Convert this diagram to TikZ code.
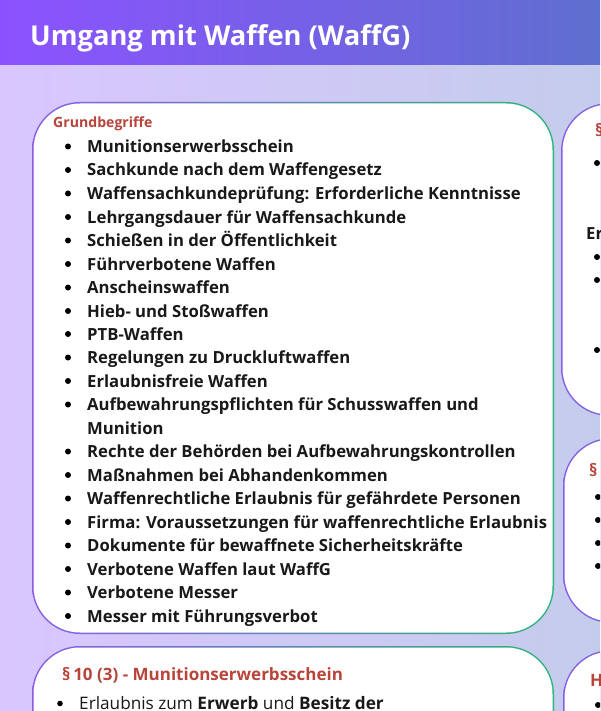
\documentclass[tikz,border=0pt]{standalone}
\usepackage{fontspec}
\setmainfont{Open Sans}
\definecolor{headleft}{HTML}{8C52FF}
\definecolor{headright}{HTML}{5F6FCF}
\definecolor{backleft}{HTML}{D9C6FF}
\definecolor{backright}{HTML}{C4CCEC}
\definecolor{cardpurple}{HTML}{8A5CE6}
\definecolor{cardgreen}{HTML}{2FB57A}
\definecolor{headred}{HTML}{B8443A}
\tikzset{
	itemtext/.style={anchor=base west, inner sep=0pt, font=\fontsize{16.7}{18}\selectfont\bfseries, text=black!90},
	redtext/.style={anchor=base west, inner sep=0pt, text=headred, font=\fontsize{17}{19}\selectfont\bfseries},
}
\newcommand{\cardbox}[4]{%
	\shade[left color=cardpurple, right color=cardgreen, rounded corners=48pt] (#1,#2) rectangle (#3,#4);
	\fill[white, rounded corners=46.5pt] (#1+1.5,#2+1.5) rectangle (#3-1.5,#4-1.5);
}
\begin{document}
\begin{tikzpicture}[x=1pt,y=-1pt]
		\clip (0,0) rectangle (600,711);
		
		% Background and header band
		\shade[left color=backleft, right color=backright] (0,65) rectangle (600,711);
		\shade[left color=headleft, right color=headright] (0,0) rectangle (600,65);
		\node[anchor=base west, inner sep=0pt, text=white, font=\fontsize{27.3}{30}\selectfont\bfseries] (title) at (30,46) {Umgang mit Waffen (WaffG)};
		
		% Cards
		\cardbox{32}{102}{554}{634}
		\cardbox{32}{646}{554}{800}
		\cardbox{561}{103}{900}{416}
		\cardbox{563}{438}{900}{623}
		\cardbox{563}{650}{900}{900}
		
		% Main card
		\node[redtext, font=\fontsize{14.1}{16}\selectfont\bfseries] (grund) at (53,128) {Grundbegriffe};
		\foreach \y/\t in {152.5/Munitionserwerbsschein, 176/Sachkunde nach dem Waffengesetz, 199.5/Waffensachkundeprüfung: Erforderliche Kenntnisse, 223/Lehrgangsdauer für Waffensachkunde, 246.5/Schießen in der Öffentlichkeit, 270/Führverbotene Waffen, 293.5/Anscheinswaffen, 317/Hieb- und Stoßwaffen, 340/PTB-Waffen, 363.5/Regelungen zu Druckluftwaffen, 387/Erlaubnisfreie Waffen, 410.5/Aufbewahrungspflichten für Schusswaffen und, 457.5/Rechte der Behörden bei Aufbewahrungskontrollen, 481/Maßnahmen bei Abhandenkommen, 504.5/Waffenrechtliche Erlaubnis für gefährdete Personen, 528/Firma: Voraussetzungen für waffenrechtliche Erlaubnis, 551.5/Dokumente für bewaffnete Sicherheitskräfte, 575/Verbotene Waffen laut WaffG, 598.5/Verbotene Messer, 622/Messer mit Führungsverbot}
		{
			\fill (68,\y-6) circle (3);
			\node[itemtext] (item\y) at (87,\y) {\t};
		}
		\node[itemtext] (itemwrap) at (87,434) {Munition};
		
		% Lower card
		\node[redtext] (para) at (62,680) {§\,10 (3) - Munitionserwerbsschein};
		\fill (60,703.5) circle (2.8);
		\node[anchor=base west, inner sep=0pt, text=black!90, font=\fontsize{17.2}{19}\selectfont] (erlaubnis) at (79,709.5) {Erlaubnis zum \textbf{Erwerb} und \textbf{Besitz der}};
		
		% Right column, cut by the page edge
		\node[redtext] (righta) at (595,137) {§};
		\node[itemtext] (rightb) at (586,239) {Er};
		\node[redtext] (rightc) at (589,476) {§};
		\node[redtext] (rightd) at (590,686) {H};
		\foreach \x/\y in {597/163, 597/257, 597/280, 597/350, 598/497, 598/520, 598/543, 598/566, 598/705}
		\fill (\x,\y) circle (3);
	\end{tikzpicture}
\end{document}
